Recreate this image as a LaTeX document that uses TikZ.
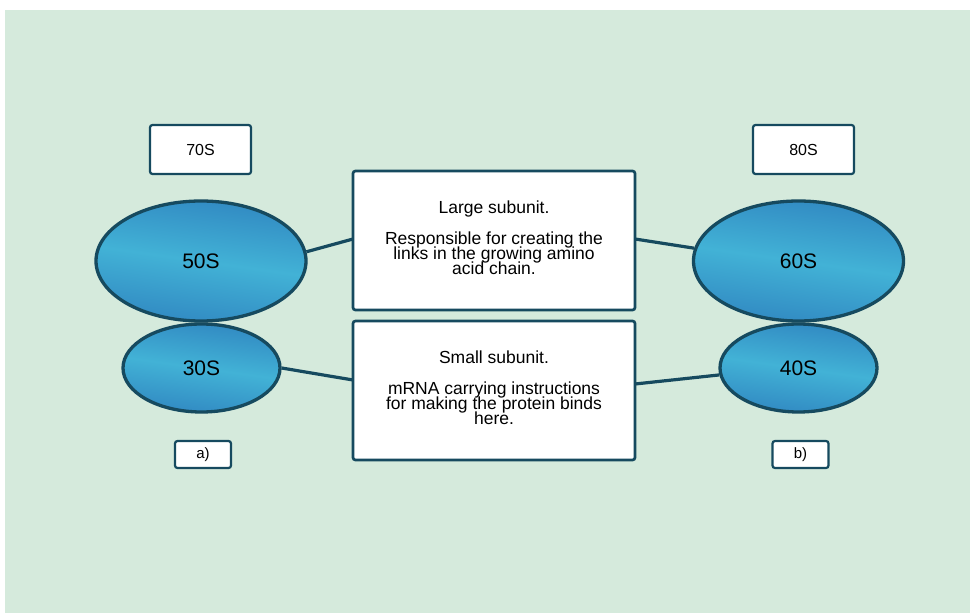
\documentclass[tikz,border=0pt]{standalone}
\usepackage{fontspec}
\setmainfont{Liberation Sans}
\usetikzlibrary{shapes.geometric}
\definecolor{bgmint}{HTML}{D5EADC}
\definecolor{edgeteal}{HTML}{164A5F}
\definecolor{blueDark}{HTML}{3189C2}
\definecolor{blueLight}{HTML}{42B2D6}
% fixed line pitch for the description paragraphs
\newcommand\tightlines{\setlength\lineskiplimit{-100pt}\setlength\lineskip{0pt}}
\tikzset{
  tag/.style={draw=edgeteal, line width=2.2pt, fill=white, rounded corners=2.5pt,
    minimum width=101pt, minimum height=49pt, font=\fontsize{16}{17}\selectfont, inner sep=0pt},
  smalltag/.style={draw=edgeteal, line width=2.2pt, fill=white, rounded corners=2.5pt,
    minimum width=56pt, minimum height=27pt, font=\fontsize{15}{16}\selectfont, inner sep=0pt},
  infobox/.style={draw=edgeteal, line width=2.7pt, fill=white, rounded corners=2.5pt,
    minimum width=282pt, minimum height=139pt, inner sep=0pt},
  infotext/.style={align=center, anchor=north, inner sep=0pt,
    font=\fontsize{17.5}{15}\selectfont\tightlines},
  subunit/.style={ellipse, draw=edgeteal, line width=3.3pt, inner sep=0pt,
    top color=blueDark, bottom color=blueDark, middle color=blueLight, shading angle=-8,
    font=\fontsize{21}{22}\selectfont},
  big/.style={subunit, minimum width=210pt, minimum height=120pt},
  small/.style={subunit, minimum width=157pt, minimum height=88pt},
  link/.style={draw=edgeteal, line width=3.2pt}
}
\begin{document}
\begin{tikzpicture}[x=1pt, y=-1pt]
  \useasboundingbox (0,0) rectangle (970,613);
  \fill[bgmint] (5,10) rectangle (970,613);

  % prokaryotic ribosome (left)
  \node[tag] (t70) at (200.5,149.5) {70S};
  \node[big] (s50) at (201,261) {50S};
  \node[small] (s30) at (201.5,368) {30S};
  \node[smalltag] (ta) at (203,454.5) {a)};

  % eukaryotic ribosome (right)
  \node[tag] (t80) at (803.5,149.5) {80S};
  \node[big] (s60) at (798.5,261) {60S};
  \node[small] (s40) at (798.5,368) {40S};
  \node[smalltag] (tb) at (800.5,454.5) {b)};

  % descriptions
  \node[infobox] (large) at (494,240.5) {};
  \node[infotext] (largetxt) at (494,201)
    {Large subunit.\\[16pt]Responsible for creating the\\links in the growing amino\\acid chain.};
  \node[infobox] (smallbox) at (494,390.5) {};
  \node[infotext] (smalltxt) at (494,350.5)
    {Small subunit.\\[16pt]mRNA carrying instructions\\for making the protein binds\\here.};

  % connectors
  \coordinate (l50) at (353,239);
  \coordinate (r60) at (635,239);
  \coordinate (l30) at (353,380);
  \coordinate (r40) at (635,384);
  \draw[link] (s50.5) -- (l50);
  \draw[link] (r60) -- (s60.173);
  \draw[link] (s30.east) -- (l30);
  \draw[link] (r40) -- (s40.185);
\end{tikzpicture}
\end{document}
